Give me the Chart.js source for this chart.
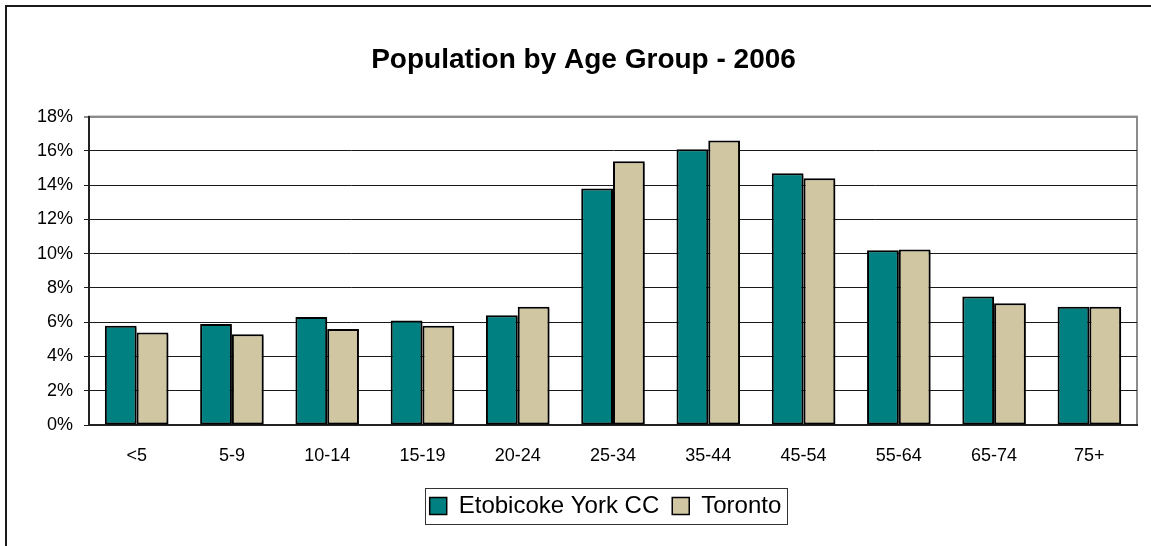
<!DOCTYPE html>
<html>
<head>
<meta charset="utf-8">
<script src="https://cdn.jsdelivr.net/npm/chart.js@4.4.0/dist/chart.umd.min.js"></script>
<style>
  html, body { margin: 0; padding: 0; background: #fff; }
  #wrap { position: relative; width: 1151px; height: 546px; }
</style>
</head>
<body>
<div id="wrap"><canvas id="c"></canvas></div>
<script>
const titleText = "Population by Age Group - 2006";
const categories = ["<5", "5-9", "10-14", "15-19", "20-24", "25-34", "35-44", "45-54", "55-64", "65-74", "75+"];
const seriesNames = ["Etobicoke York CC", "Toronto"];
const etobicokeYork = [5.8, 5.9, 6.3, 6.1, 6.4, 13.8, 16.1, 14.7, 10.2, 7.5, 6.9];
const toronto = [5.4, 5.3, 5.6, 5.8, 6.9, 15.4, 16.6, 14.4, 10.25, 7.1, 6.9];
const yTicks = [0, 2, 4, 6, 8, 10, 12, 14, 16, 18];

const FONT = "'Liberation Sans', Arial, sans-serif";
const TITLE_SHIFT = 15;
const LEGEND_SHIFT = 37;
const LEGEND_PAD = 13;
const LEGEND_FONT = 24;

const framePlugin = {
  id: 'frame',
  afterLayout(chart) {
    const t = chart.titleBlock;
    if (t) { t.left += TITLE_SHIFT; t.right += TITLE_SHIFT; }
    const lg = chart.legend;
    if (lg) { lg.left += LEGEND_SHIFT; lg.right += LEGEND_SHIFT; }
  },
  beforeDraw(chart) {
    const ctx = chart.ctx;
    const a = chart.chartArea;
    ctx.save();
    ctx.strokeStyle = '#1a1a1a';
    ctx.lineWidth = 2;
    ctx.beginPath();
    ctx.moveTo(6, chart.height + 5);
    ctx.lineTo(6, 6);
    ctx.lineTo(chart.width + 5, 6);
    ctx.stroke();
    ctx.strokeStyle = '#8c8c8c';
    ctx.lineWidth = 2;
    ctx.strokeRect(a.left, a.top, a.right - a.left, a.bottom - a.top);
    ctx.restore();
  },
  beforeDatasetsDraw(chart) {
    const ctx = chart.ctx;
    ctx.save();
    ctx.shadowColor = 'rgba(0,0,0,0.35)';
    ctx.shadowOffsetX = 2;
    ctx.shadowOffsetY = 2;
    ctx.shadowBlur = 0;
  },
  afterDatasetsDraw(chart) {
    chart.ctx.restore();
  },
  afterDraw(chart) {
    const lg = chart.legend;
    if (!lg || !lg.lineWidths || !lg.lineWidths.length) return;
    const lw = lg.lineWidths[0];
    const startX = (lg.left + LEGEND_PAD + lg.right - lw) / 2;
    const endX = startX + lw - LEGEND_PAD;
    const cy = lg.top + LEGEND_PAD + LEGEND_FONT / 2;
    const ctx = chart.ctx;
    ctx.save();
    ctx.strokeStyle = '#333';
    ctx.lineWidth = 1;
    const x0 = Math.round(startX - 5) + 0.5;
    const x1 = Math.round(endX + 6) + 0.5;
    const y0 = Math.round(cy - 18) + 0.5;
    const y1 = Math.round(cy + 18) + 0.5;
    ctx.strokeRect(x0, y0, x1 - x0, y1 - y0);
    ctx.restore();
  }
};

new Chart(document.getElementById('c'), {
  type: 'bar',
  data: {
    labels: categories,
    datasets: [
      {
        label: seriesNames[0],
        data: etobicokeYork,
        backgroundColor: '#008080',
        borderColor: '#000',
        borderWidth: 2,
        borderSkipped: false,
        barPercentage: 1.0,
        categoryPercentage: 0.667
      },
      {
        label: seriesNames[1],
        data: toronto,
        backgroundColor: '#D0C6A2',
        borderColor: '#000',
        borderWidth: 2,
        borderSkipped: false,
        barPercentage: 1.0,
        categoryPercentage: 0.667
      }
    ]
  },
  options: {
    responsive: true,
    maintainAspectRatio: false,
    devicePixelRatio: 1,
    animation: false,
    layout: { padding: { left: 0, right: 14, top: 0, bottom: 18 } },
    plugins: {
      title: {
        display: true,
        text: titleText,
        color: '#000',
        font: { family: FONT, size: 28, weight: 'bold', lineHeight: 1.2 },
        padding: { top: 43, bottom: 40 }
      },
      legend: {
        display: true,
        position: 'bottom',
        labels: {
          color: '#000',
          font: { family: FONT, size: LEGEND_FONT },
          boxWidth: 17,
          boxHeight: 17,
          padding: LEGEND_PAD,
          generateLabels(chart) {
            return chart.data.datasets.map((ds, i) => ({
              text: ds.label,
              fillStyle: ds.backgroundColor,
              strokeStyle: '#000',
              lineWidth: 1.5,
              datasetIndex: i,
              hidden: false
            }));
          }
        }
      },
      tooltip: { enabled: false }
    },
    scales: {
      x: {
        grid: { display: false, drawTicks: false },
        border: { display: true, color: '#222', width: 2 },
        ticks: {
          color: '#000',
          font: { family: FONT, size: 18 },
          padding: 20,
          maxRotation: 0
        },
        afterFit(scale) { scale.height = 56; }
      },
      y: {
        min: 0,
        max: 18,
        afterBuildTicks(scale) { scale.ticks = yTicks.map(v => ({ value: v })); },
        grid: {
          color: ctx => (ctx.tick && ctx.tick.value === 18) ? '#8c8c8c' : '#1a1a1a',
          lineWidth: ctx => (ctx.tick && ctx.tick.value === 18) ? 2 : 1,
          tickLength: 5,
          drawTicks: true
        },
        border: { display: true, color: '#222', width: 2 },
        ticks: {
          color: '#000',
          font: { family: FONT, size: 18 },
          padding: 11,
          callback: v => v + '%'
        },
        afterFit(scale) { scale.width = 89; }
      }
    }
  },
  plugins: [framePlugin]
});
</script>
</body>
</html>
